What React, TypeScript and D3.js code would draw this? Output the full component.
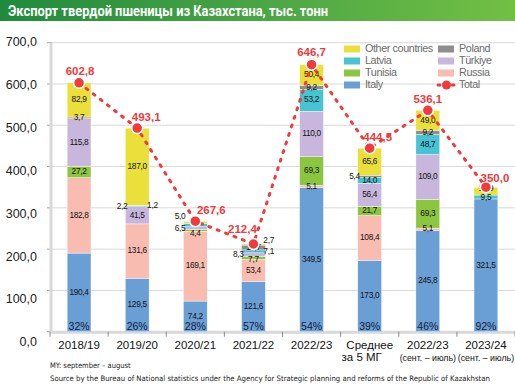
import React from "react";
import * as d3 from "d3";

// категории (подписи оси X, вторая строка — уточнение)
const categories = ["2018/19", "2019/20", "2020/21", "2021/22", "2022/23", "Среднее", "2022/23", "2023/24"];
const subLabels = ["", "", "", "", "", "за 5 МГ", "(сент. – июль)", "(сент. – июль)"];

// экспорт по странам, тыс. тонн
const italy = [190.4, 129.5, 74.2, 121.6, 349.5, 173.0, 245.8, 321.5];
const russia = [182.8, 131.6, 169.1, 53.4, 5.1, 108.4, 5.1, 0];
const tunisia = [27.2, 0, 4.4, 7.7, 69.3, 21.7, 69.3, 0];
const turkiye = [115.8, 41.5, 6.5, 8.3, 110.0, 56.4, 109.0, 0];
const latvia = [0, 2.2, 8.4, 7.1, 53.2, 14.0, 48.7, 9.5];
const poland = [3.7, 1.2, 0, 11.7, 9.2, 5.4, 9.2, 0];
const other = [82.9, 187.0, 5.0, 2.7, 50.4, 65.6, 49.0, 18.9];
const totals = [602.8, 493.1, 267.6, 212.4, 646.7, 444.5, 536.1, 350.0];
const italyShare = [32, 26, 28, 57, 54, 39, 46, 92];
const yTicks = [0, 100, 200, 300, 400, 500, 600, 700];

const seriesKeys = ["italy", "russia", "tunisia", "turkiye", "latvia", "poland", "other"];
const seriesNames: Record<string, string> = {
  italy: "Italy",
  russia: "Russia",
  tunisia: "Tunisia",
  turkiye: "Türkiye",
  latvia: "Latvia",
  poland: "Poland",
  other: "Other countries",
};
const colors: Record<string, string> = {
  italy: "#6a9fd6",
  russia: "#f8bdb0",
  tunisia: "#8cc540",
  turkiye: "#c8b6dc",
  latvia: "#48c3d3",
  poland: "#8e8e8e",
  other: "#ebdf3c",
};
const RED = "#f03a3c";

// где ставить подписи маленьких сегментов (сбоку от столбика)
const labelSide: Record<string, [string, number]> = {
  "1-latvia": ["left", 0],
  "1-poland": ["right", 0],
  "2-tunisia": ["in", 3],
  "2-turkiye": ["left", 0.5],
  "2-latvia": ["in", -2],
  "2-other": ["left", -5.5],
  "3-tunisia": ["in", 1.5],
  "3-turkiye": ["left", 0],
  "3-latvia": ["right", 0],
  "3-other": ["right", -4],
  "5-poland": ["left", 0],
  "7-latvia": ["in", 1],
  "7-other": ["in", -2.5],
};
const totalLabelDx = [1, 9, 16, -11, 0, 8, 0, 9];
const totalLabelDy = [-8, -7.5, -7.5, -11, -8.5, -7, -7, -5];

const W = 515;
const H = 384;

const fmt = (v: number) => d3.format(".1f")(v).replace(".", ",");

export default function App() {
  const rows = categories.map((c, i) => ({
    i,
    italy: italy[i],
    russia: russia[i],
    tunisia: tunisia[i],
    turkiye: turkiye[i],
    latvia: latvia[i],
    poland: poland[i],
    other: other[i],
  }));
  const stacked = d3.stack<any>().keys(seriesKeys)(rows);

  const x = d3
    .scaleBand<number>()
    .domain(categories.map((_, i) => i))
    .range([50, 515])
    .paddingInner(0.59)
    .paddingOuter(0.295);
  const step = x.step();
  const cx = (i: number) => (x(i) as number) + x.bandwidth() / 2;

  const y = d3.scaleLinear().domain([0, 700]).range([331.7, 42.7]);
  // подписи оси Y в оригинале немного смещены относительно сетки
  const yLabel = d3.scaleLinear().domain([0, 700]).range([343, 43]);

  const line = d3
    .line<number>()
    .x((_, i) => cx(i))
    .y((d) => y(d));

  const legendCols = [
    ["other", "latvia", "tunisia", "italy"],
    ["poland", "turkiye", "russia", "total"],
  ];

  return (
    <svg
      width={W}
      height={H}
      style={{ position: "absolute", left: 0, top: 0, background: "#fff" }}
      fontFamily="'Liberation Sans', Arial, sans-serif"
    >
      <defs>
        <linearGradient id="titleGrad" x1="0" x2="1" y1="0" y2="0">
          <stop offset="0" stopColor="#1f8a3d" />
          <stop offset="0.55" stopColor="#4ea845" />
          <stop offset="1" stopColor="#72bf44" />
        </linearGradient>
      </defs>

      {/* заголовок */}
      <rect x={0} y={0} width={W} height={21} fill="url(#titleGrad)" />
      <text
        x={8}
        y={15.5}
        fill="#fff"
        fontFamily="Roboto, 'Liberation Sans', sans-serif"
        fontWeight="bold"
        fontSize={14}
        textLength={320}
        lengthAdjust="spacingAndGlyphs"
      >
        Экспорт твердой пшеницы из Казахстана, тыс. тонн
      </text>

      {/* сетка и ось Y */}
      {yTicks.map((t) => (
        <g key={t}>
          {t > 0 && <line x1={52} x2={W} y1={y(t)} y2={y(t)} stroke="#d9d9d9" strokeWidth={1} />}
          <line x1={47} x2={52} y1={y(t)} y2={y(t)} stroke="#a6a6a6" strokeWidth={1} />
          <text
            x={37}
            y={yLabel(t)}
            textAnchor="end"
            dominantBaseline="middle"
            fontSize={12.5}
            fill="#222"
          >
            {fmt(t)}
          </text>
        </g>
      ))}
      <line x1={51} x2={51} y1={y(700)} y2={y(0)} stroke="#d9d9d9" strokeWidth={3} />
      <line x1={50} x2={W} y1={y(0) + 0.5} y2={y(0) + 0.5} stroke="#d9d9d9" strokeWidth={3} />
      {d3.range(categories.length + 1).map((k) => (
        <line
          key={k}
          x1={50 + k * step}
          x2={50 + k * step}
          y1={y(0)}
          y2={y(0) + 5}
          stroke="#8c8c8c"
          strokeWidth={1}
        />
      ))}

      {/* столбики */}
      {stacked.map((s) => (
        <g key={s.key}>
          {s.map((d, i) =>
            d[1] - d[0] > 0 ? (
              <rect
                key={i}
                x={x(i)}
                y={y(d[1])}
                width={x.bandwidth()}
                height={y(d[0]) - y(d[1])}
                fill={colors[s.key]}
                stroke="#fff"
                strokeWidth={0.4}
              />
            ) : null
          )}
        </g>
      ))}

      {/* подписи сегментов */}
      {stacked.map((s) =>
        s.map((d, i) => {
          const v = d[1] - d[0];
          if (v <= 0) return null;
          const [side, dy] = labelSide[`${i}-${s.key}`] || ["in", 0];
          const left = x(i) as number;
          const right = left + x.bandwidth();
          const lx = side === "left" ? left + 2 : side === "right" ? right - 2 : cx(i);
          const anchor = side === "left" ? "end" : side === "right" ? "start" : "middle";
          return (
            <text
              key={`${s.key}-${i}`}
              x={lx}
              y={y((d[0] + d[1]) / 2) + dy}
              textAnchor={anchor}
              dominantBaseline="middle"
              fontSize={8.3}
              letterSpacing={-0.3}
              fill="#111"
            >
              {fmt(v)}
            </text>
          );
        })
      )}

      {/* доля Италии */}
      {italyShare.map((p, i) => (
        <text key={i} x={cx(i)} y={329.5} textAnchor="middle" fontSize={10.5} fill="#16213a">
          {p}%
        </text>
      ))}

      {/* линия итога */}
      <path
        d={line(totals) || ""}
        fill="none"
        stroke={RED}
        strokeWidth={3}
        strokeDasharray="2 7"
        strokeLinecap="round"
      />
      {totals.map((t, i) => (
        <g key={i}>
          <circle cx={cx(i)} cy={y(t)} r={5.5} fill={RED} stroke="#fff" strokeWidth={1.5} />
          <text
            x={cx(i) + totalLabelDx[i]}
            y={y(t) + totalLabelDy[i]}
            textAnchor="middle"
            fontSize={11.5}
            fontWeight="bold"
            fill={RED}
          >
            {fmt(t)}
          </text>
        </g>
      ))}

      {/* ось X */}
      {categories.map((c, i) => (
        <g key={i}>
          <text x={cx(i)} y={349} textAnchor="middle" fontSize={11.5} fill="#111">
            {c}
          </text>
          {subLabels[i] && (
            <text
              x={i === 5 ? cx(i) - 8 : cx(i)}
              y={361}
              textAnchor="middle"
              fontSize={i === 5 ? 11.5 : 8.8}
              fill="#111"
            >
              {subLabels[i]}
            </text>
          )}
        </g>
      ))}

      {/* легенда */}
      {legendCols.map((col, ci) =>
        col.map((k, ri) => {
          const lx = ci === 0 ? 344 : 438;
          const ly = 49 + ri * 12;
          return (
            <g key={k}>
              {k === "total" ? (
                <g>
                  <line
                    x1={lx}
                    x2={lx + 17}
                    y1={ly}
                    y2={ly}
                    stroke={RED}
                    strokeWidth={3}
                    strokeDasharray="2 5"
                    strokeLinecap="round"
                  />
                  <circle cx={lx + 8.5} cy={ly} r={4.5} fill={RED} />
                </g>
              ) : (
                <rect x={lx} y={ly - 3.5} width={16} height={7} fill={colors[k]} />
              )}
              <text
                x={lx + 21}
                y={ly}
                dominantBaseline="middle"
                fontSize={10.8}
                letterSpacing={-0.4}
                fill="#6b6b6b"
              >
                {k === "total" ? "Total" : seriesNames[k]}
              </text>
            </g>
          );
        })
      )}

      {/* примечания */}
      <text x={50} y={368} fontSize={7.5} fill="#222" fontFamily="'DejaVu Sans Condensed', 'DejaVu Sans', sans-serif">
        MY: september – august
      </text>
      <text
        x={50}
        y={381}
        fontSize={7.5}
        fill="#222"
        fontFamily="'DejaVu Sans Condensed', 'DejaVu Sans', sans-serif"
        textLength={440}
        lengthAdjust="spacingAndGlyphs"
      >
        Source by the Bureau of National statistics under the Agency for Strategic planning and reforms of the Republic of Kazakhstan
      </text>
    </svg>
  );
}
